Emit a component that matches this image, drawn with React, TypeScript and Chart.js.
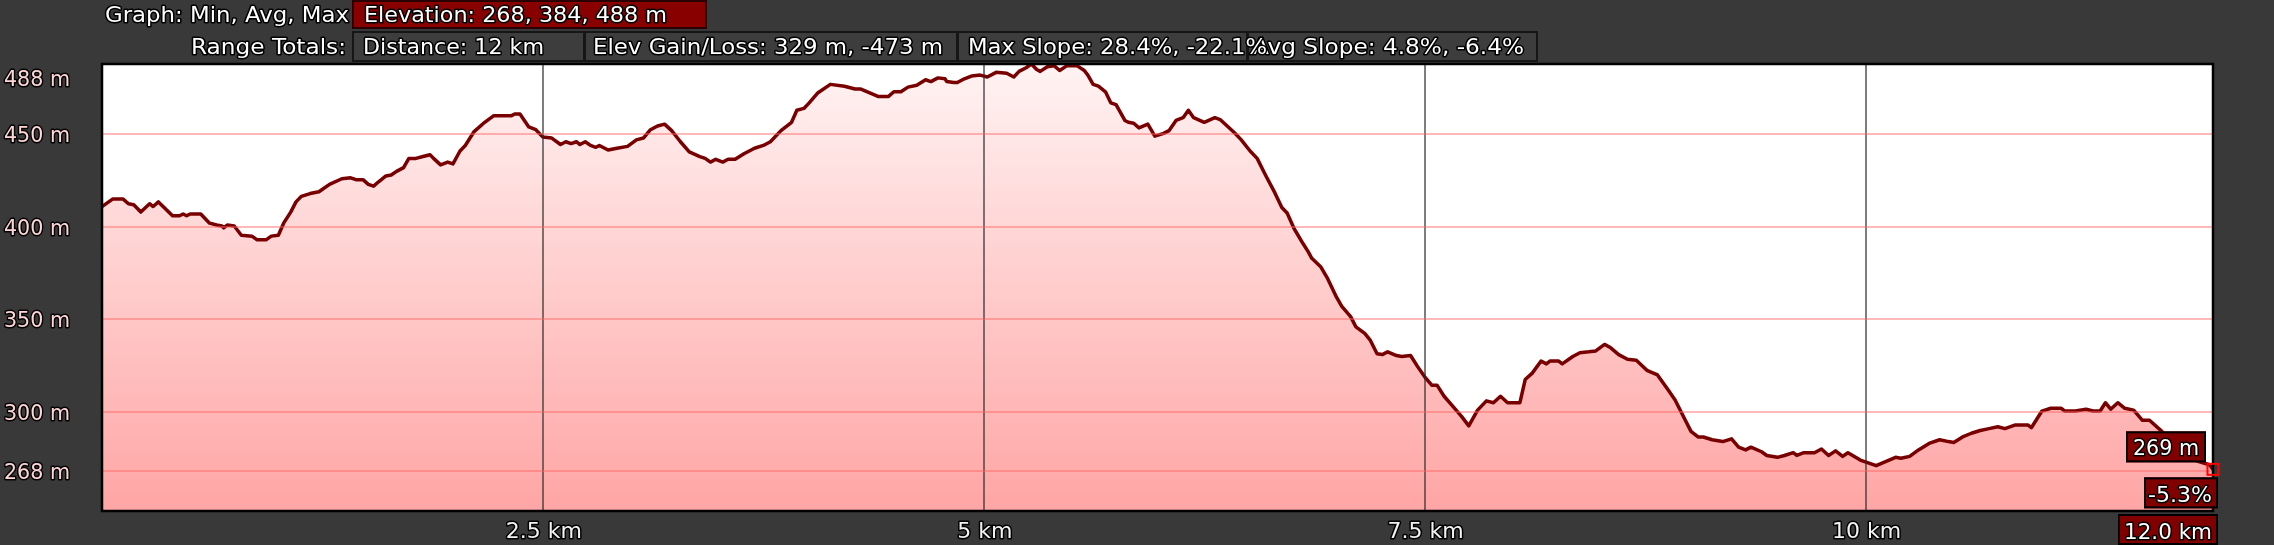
import React, { useEffect, useRef } from 'react';
import { Chart, registerables } from 'chart.js';

Chart.register(...registerables);

// ---------------- data ----------------
const distanceKm = [
  0.0, 0.06, 0.12, 0.15, 0.18, 0.22, 0.27, 0.29, 0.32, 0.4, 0.44, 0.46, 0.48, 0.5, 0.56, 0.61, 0.65, 0.68, 0.69, 0.71,
  0.75, 0.79, 0.85, 0.88, 0.93, 0.96, 1.0, 1.03, 1.07, 1.1, 1.13, 1.18, 1.23, 1.29, 1.36, 1.41, 1.44, 1.48, 1.51, 1.54,
  1.57, 1.61, 1.64, 1.67, 1.71, 1.74, 1.78, 1.82, 1.86, 1.88, 1.92, 1.96, 1.99, 2.03, 2.06, 2.11, 2.17, 2.22, 2.32, 2.34,
  2.37, 2.42, 2.46, 2.5, 2.55, 2.6, 2.63, 2.66, 2.69, 2.71, 2.74, 2.77, 2.8, 2.82, 2.87, 2.92, 2.98, 3.03, 3.07, 3.11,
  3.15, 3.19, 3.23, 3.28, 3.33, 3.39, 3.42, 3.45, 3.48, 3.52, 3.55, 3.59, 3.64, 3.7, 3.75, 3.79, 3.85, 3.91, 3.94, 3.98,
  4.01, 4.06, 4.13, 4.21, 4.27, 4.3, 4.35, 4.4, 4.46, 4.49, 4.53, 4.57, 4.62, 4.67, 4.7, 4.74, 4.78, 4.79, 4.83, 4.85,
  4.89, 4.93, 4.98, 5.02, 5.07, 5.13, 5.17, 5.2, 5.24, 5.27, 5.3, 5.32, 5.36, 5.4, 5.43, 5.47, 5.53, 5.57, 5.59, 5.62,
  5.65, 5.69, 5.72, 5.75, 5.8, 5.82, 5.85, 5.88, 5.93, 5.97, 6.02, 6.05, 6.09, 6.13, 6.16, 6.19, 6.25, 6.31, 6.34, 6.42,
  6.46, 6.51, 6.55, 6.6, 6.65, 6.69, 6.72, 6.76, 6.81, 6.84, 6.86, 6.91, 6.95, 7.0, 7.03, 7.08, 7.11, 7.16, 7.19, 7.23,
  7.26, 7.29, 7.34, 7.37, 7.42, 7.46, 7.5, 7.54, 7.57, 7.61, 7.66, 7.71, 7.75, 7.8, 7.85, 7.89, 7.93, 7.97, 8.04, 8.07,
  8.11, 8.16, 8.19, 8.21, 8.26, 8.28, 8.34, 8.38, 8.43, 8.47, 8.52, 8.55, 8.6, 8.65, 8.7, 8.76, 8.82, 8.88, 8.92, 8.97,
  9.01, 9.05, 9.08, 9.13, 9.19, 9.24, 9.28, 9.32, 9.35, 9.41, 9.44, 9.5, 9.54, 9.59, 9.61, 9.65, 9.71, 9.75, 9.79, 9.83,
  9.87, 9.9, 9.97, 10.06, 10.11, 10.17, 10.2, 10.25, 10.3, 10.36, 10.42, 10.47, 10.5, 10.55, 10.6, 10.65, 10.7, 10.75, 10.79, 10.85,
  10.92, 10.94, 11.0, 11.05, 11.11, 11.13, 11.19, 11.25, 11.29, 11.33, 11.36, 11.39, 11.43, 11.47, 11.52, 11.57, 11.61, 11.68, 11.75, 11.82,
  11.88, 11.95, 11.97,
];

const elevationM = [
  411, 415, 415, 412.5, 412, 408, 412.5, 411, 413.5, 406, 406, 407, 406, 407, 407, 402, 401, 400.5, 399.5, 401,
  400.5, 395.5, 395, 393, 393, 395, 395.5, 402, 408, 413.5, 416.5, 418, 419, 423, 426, 426.5, 425.5, 425.5, 423, 422,
  424.5, 427.5, 428, 430, 432, 437, 437, 438, 439, 437, 433.5, 435, 434, 441, 444, 451.5, 456.5, 460, 460, 461,
  461, 454, 452.5, 448.5, 448, 444.5, 446, 445, 446, 444.5, 446, 444, 443, 444, 441.5, 442.5, 443.5, 447, 448, 452.5,
  454.5, 455.5, 452, 446, 440.5, 438, 437, 435, 436.5, 435, 436.5, 436.5, 439.5, 442.5, 444, 446, 452, 456.5, 463, 464,
  467, 472.5, 477, 476, 474.5, 474.5, 472.5, 470.5, 470.5, 473, 473, 475.5, 476.5, 479.5, 478.5, 480.5, 480, 478.5, 478, 478,
  480, 481.5, 482, 481, 483.5, 483, 481, 484, 486, 488, 485, 484, 486.5, 487, 484.5, 487, 487, 484.5, 482, 477,
  476, 473, 467, 466, 457.5, 456.5, 456, 453.5, 455.5, 449, 450.5, 452, 457.5, 459, 463, 459, 456.5, 459, 458, 451,
  447, 441, 437, 427.5, 418.5, 410.5, 407.5, 399, 391, 386.5, 383, 378.5, 372, 362, 357, 351.5, 346, 342.5, 339, 331.5,
  331, 332.5, 330.5, 330, 330.5, 324.5, 319, 314.5, 314.5, 308.5, 303, 297.5, 292.5, 301, 306, 305, 308.5, 305, 305, 317.5,
  321, 327.5, 326, 327.5, 327.5, 326, 330, 332, 332.5, 333, 336.5, 335, 331, 328.5, 328, 322.5, 320, 312, 306.5, 297,
  289.5, 286.5, 286.5, 285, 284, 285.5, 281, 279.5, 281, 278.5, 276.5, 275.5, 276.5, 278, 276.5, 278, 278, 280, 276.5, 279,
  276, 278, 274, 271, 273, 275.5, 275, 276, 279.5, 283, 285, 284, 283.5, 286.5, 288.5, 290, 291, 292, 291, 293,
  293, 291.5, 300.5, 302, 302, 300.5, 300.5, 301.5, 300.5, 300.5, 305, 301.5, 305, 302, 301, 295.5, 295.5, 289.5, 283, 277,
  273.5, 271.5, 269,
];

const yTickValues = [268, 300, 350, 400, 450, 488];
const yGridValues = [268, 300, 350, 400, 450];
const xTickValues = [2.5, 5, 7.5, 10];
const yUnit = 'm';
const xUnit = 'km';

const headerRow1Label = 'Graph: Min, Avg, Max';
const headerRow1Value = 'Elevation: 268, 384, 488 m';
const headerRow2Label = 'Range Totals:';
const headerRow2Values = [
  'Distance: 12 km',
  'Elev Gain/Loss: 329 m, -473 m',
  'Max Slope: 28.4%, -22.1%',
  'Avg Slope: 4.8%, -6.4%',
];
const endElevationLabel = '269 m';
const endSlopeLabel = '-5.3%';
const endDistanceLabel = '12.0 km';

// ---------------- layout / style ----------------
const W = 2274;
const H = 545;
const BG = '#393939';
const FONT = '"DejaVu Sans", "Verdana", sans-serif';

type Ctx = CanvasRenderingContext2D;

function outlined(
  ctx: Ctx,
  text: string,
  x: number,
  y: number,
  align: CanvasTextAlign,
  color: string,
  size: number,
  targetWidth?: number
) {
  ctx.save();
  ctx.font = `${size}px ${FONT}`;
  ctx.textBaseline = 'alphabetic';
  ctx.textAlign = align;
  const m = ctx.measureText(text).width;
  const sx = targetWidth ? targetWidth / m : 1;
  ctx.translate(x, y);
  ctx.scale(sx, 1);
  ctx.lineJoin = 'round';
  ctx.lineWidth = 3;
  ctx.strokeStyle = '#000000';
  ctx.strokeText(text, 0, 0);
  ctx.fillStyle = color;
  ctx.fillText(text, 0, 0);
  ctx.restore();
}

function box(ctx: Ctx, x1: number, y1: number, x2: number, y2: number, fill: string, stroke: string) {
  ctx.save();
  ctx.fillStyle = fill;
  ctx.fillRect(x1, y1, x2 - x1, y2 - y1);
  ctx.strokeStyle = stroke;
  ctx.lineWidth = 2;
  ctx.strokeRect(x1 + 1, y1 + 1, x2 - x1 - 2, y2 - y1 - 2);
  ctx.restore();
}

const decorPlugin = {
  id: 'decor',
  beforeDraw(chart: any) {
    const ctx: Ctx = chart.ctx;
    const ca = chart.chartArea;
    ctx.save();
    ctx.fillStyle = BG;
    ctx.fillRect(0, 0, chart.width, chart.height);
    ctx.fillStyle = '#ffffff';
    ctx.fillRect(ca.left, ca.top, ca.right - ca.left, ca.bottom - ca.top);
    ctx.restore();
  },
  afterDraw(chart: any) {
    const ctx: Ctx = chart.ctx;
    const ca = chart.chartArea;
    const xs = chart.scales.x;
    const ys = chart.scales.y;

    // plot frame
    ctx.save();
    ctx.strokeStyle = '#000000';
    ctx.lineWidth = 2.5;
    ctx.strokeRect(ca.left, ca.top, ca.right - ca.left, ca.bottom - ca.top);
    ctx.restore();

    // header row 1
    box(ctx, 352, 0, 707, 29, '#880000', '#2a0000');
    outlined(ctx, headerRow1Label, 349, 22, 'right', '#ffffff', 22, 244);
    outlined(ctx, headerRow1Value, 364, 22, 'left', '#ffffff', 22, 303);

    // header row 2
    const edges = [352, 584, 957, 1247, 1537];
    for (let i = 0; i < 4; i++) box(ctx, edges[i], 31, edges[i + 1] + 1, 62, '#3d3d3d', '#161616');
    outlined(ctx, headerRow2Label, 346, 53.5, 'right', '#ffffff', 22, 155);
    outlined(ctx, headerRow2Values[0], 363, 53.5, 'left', '#ffffff', 22, 181);
    outlined(ctx, headerRow2Values[1], 593, 53.5, 'left', '#ffffff', 22, 350);
    outlined(ctx, headerRow2Values[3], 1253, 53.5, 'left', '#ffffff', 22, 271);
    outlined(ctx, headerRow2Values[2], 968, 53.5, 'left', '#ffffff', 22, 299);

    // y labels
    for (const v of yTickValues) {
      let y = ys.getPixelForValue(v);
      y = Math.max(y, ca.top + 14);
      outlined(ctx, `${v} ${yUnit}`, 4, y + 8, 'left', '#ffd6d6', 22, 66);
    }
    // x labels
    for (const v of xTickValues) {
      const x = xs.getPixelForValue(v);
      outlined(ctx, `${v} ${xUnit}`, x + 1, 538, 'center', '#f2f2f2', 22);
    }

    // end-point readouts
    const n = distanceKm.length - 1;
    const px = xs.getPixelForValue(distanceKm[n]);
    const py = ys.getPixelForValue(elevationM[n]);
    box(ctx, px - 87, py - 38, px - 7, py - 7, '#800000', '#000000');
    outlined(ctx, endElevationLabel, px - 47, py - 14, 'center', '#ffffff', 22, 66);
    box(ctx, px - 69, py + 8, px + 5, py + 39, '#800000', '#000000');
    outlined(ctx, endSlopeLabel, px - 33, py + 33, 'center', '#ffffff', 22, 64);
    box(ctx, px - 95, ca.bottom + 3, px + 5, H, '#800000', '#000000');
    outlined(ctx, endDistanceLabel, px - 45, 539, 'center', '#ffffff', 22, 88);

    ctx.save();
    ctx.strokeStyle = '#ff0000';
    ctx.lineWidth = 2;
    ctx.strokeRect(px - 5.5, py - 5.5, 11, 11);
    ctx.restore();
  },
};

export default function App() {
  const ref = useRef<HTMLCanvasElement | null>(null);

  useEffect(() => {
    document.body.style.margin = '0';
    document.body.style.background = BG;
    const canvas = ref.current;
    if (!canvas) return;
    const chart = new Chart(canvas, {
      type: 'line',
      data: {
        datasets: [
          {
            data: distanceKm.map((x, i) => ({ x, y: elevationM[i] })),
            borderColor: '#780000',
            borderWidth: 3.5,
            borderJoinStyle: 'round',
            pointRadius: 0,
            tension: 0,
            fill: 'start',
            backgroundColor: (c: any) => {
              const ca = c.chart.chartArea;
              if (!ca) return '#ffc8c8';
              const g = c.chart.ctx.createLinearGradient(0, ca.top, 0, ca.bottom);
              g.addColorStop(0, '#fff3f3');
              g.addColorStop(1, '#ffa5a5');
              return g;
            },
          },
        ],
      },
      options: {
        responsive: false,
        animation: false,
        events: [],
        layout: { padding: { top: 64, right: 61, left: 0, bottom: 0 } },
        plugins: { legend: { display: false }, tooltip: { enabled: false } },
        scales: {
          x: {
            type: 'linear',
            min: 0,
            max: 11.97,
            afterBuildTicks: (s: any) => {
              s.ticks = xTickValues.map((v) => ({ value: v }));
            },
            afterFit: (s: any) => {
              s.height = 34;
            },
            ticks: { display: false },
            border: { display: false },
            grid: { color: 'rgba(40,40,40,0.6)', lineWidth: 2, drawTicks: false, z: 1 } as any,
          },
          y: {
            type: 'linear',
            min: 246.5,
            max: 488,
            afterBuildTicks: (s: any) => {
              s.ticks = yGridValues.map((v) => ({ value: v }));
            },
            afterFit: (s: any) => {
              s.width = 102;
            },
            ticks: { display: false },
            border: { display: false },
            grid: { color: 'rgba(255,100,100,0.45)', lineWidth: 2, drawTicks: false, z: 1 } as any,
          },
        },
      } as any,
      plugins: [decorPlugin],
    });
    return () => chart.destroy();
  }, []);

  return (
    <div style={{ width: W, height: H, background: BG }}>
      <canvas ref={ref} width={W} height={H} style={{ display: 'block', width: W, height: H }} />
    </div>
  );
}
